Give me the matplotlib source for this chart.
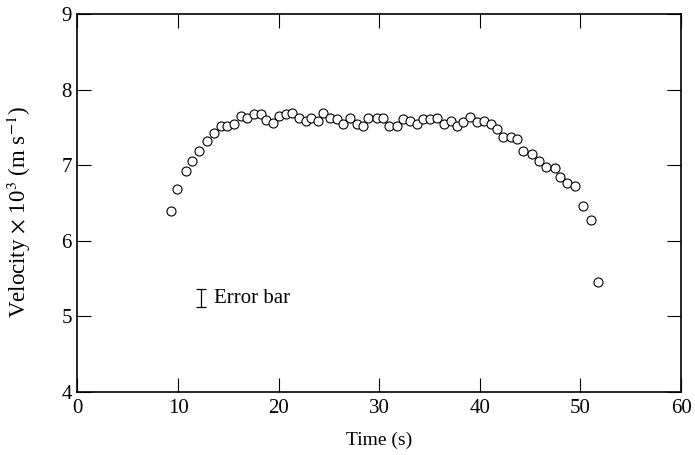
import matplotlib
matplotlib.use("Agg")
import matplotlib.pyplot as plt

# velocity readings (x10^3 m/s) against time (s)
time_s = [9.26, 9.92, 10.76, 11.41, 12.08, 12.90, 13.60, 14.23, 14.89, 15.56,
          16.22, 16.88, 17.57, 18.24, 18.74, 19.40, 20.03, 20.70, 21.35, 22.02,
          22.68, 23.18, 23.94, 24.43, 25.10, 25.83, 26.42, 27.09, 27.75, 28.41,
          28.91, 29.74, 30.40, 30.99, 31.73, 32.39, 33.05, 33.72, 34.37, 35.04,
          35.77, 36.43, 37.10, 37.69, 38.35, 39.02, 39.68, 40.41, 41.07, 41.67,
          42.33, 43.06, 43.72, 44.31, 45.18, 45.90, 46.57, 47.42, 48.01, 48.69,
          49.45, 50.22, 51.07, 51.71]
velocity = [6.39, 6.68, 6.93, 7.06, 7.19, 7.32, 7.43, 7.52, 7.52, 7.54,
            7.65, 7.62, 7.68, 7.68, 7.60, 7.56, 7.65, 7.68, 7.69, 7.62,
            7.58, 7.63, 7.58, 7.69, 7.63, 7.61, 7.55, 7.63, 7.55, 7.52,
            7.63, 7.63, 7.63, 7.52, 7.52, 7.61, 7.58, 7.55, 7.61, 7.61,
            7.62, 7.55, 7.58, 7.52, 7.57, 7.64, 7.57, 7.59, 7.55, 7.48,
            7.37, 7.37, 7.35, 7.19, 7.15, 7.06, 6.98, 6.97, 6.84, 6.76,
            6.72, 6.46, 6.27, 5.46]

# sample error bar shown as a key
err_x = 12.28
err_y = 5.24
err_half = 0.12

x_ticks = [0, 10, 20, 30, 40, 50, 60]
y_ticks = [4, 5, 6, 7, 8, 9]

plt.rcParams['font.family'] = ['Liberation Serif', 'DejaVu Serif']
plt.rcParams['mathtext.fontset'] = 'stix'

fig = plt.figure(figsize=(6.95, 4.55), dpi=100)
ax = fig.add_axes([0.1115, 0.1385, 0.8685, 0.8305])

ax.plot(time_s, velocity, 'o', mfc='white', mec='black', ms=6.5, mew=0.8)

ax.errorbar([err_x], [err_y], yerr=[err_half], fmt='none', ecolor='black',
            elinewidth=0.9, capsize=3.5, capthick=0.9)
ax.text(err_x + 1.3, err_y, 'Error bar', fontsize=15, va='center', ha='left')

ax.set_xlim(0, 60)
ax.set_ylim(4, 9)
ax.set_xticks(x_ticks)
ax.set_yticks(y_ticks)
ax.tick_params(direction='in', length=10, width=0.8, top=True, right=True,
               labelsize=15)
ax.tick_params(axis='x', pad=5)
ax.tick_params(axis='y', pad=4)
for s in ax.spines.values():
    s.set_linewidth(1.2)

ax.set_xlabel('Time (s)', fontsize=14, labelpad=10)
ax.set_ylabel(r'Velocity $\times$ 10$^3$ (m s$^{-1}$)', fontsize=16.5)
ax.yaxis.set_label_coords(-0.073, 0.475)

fig.savefig('out.png', dpi=100)
